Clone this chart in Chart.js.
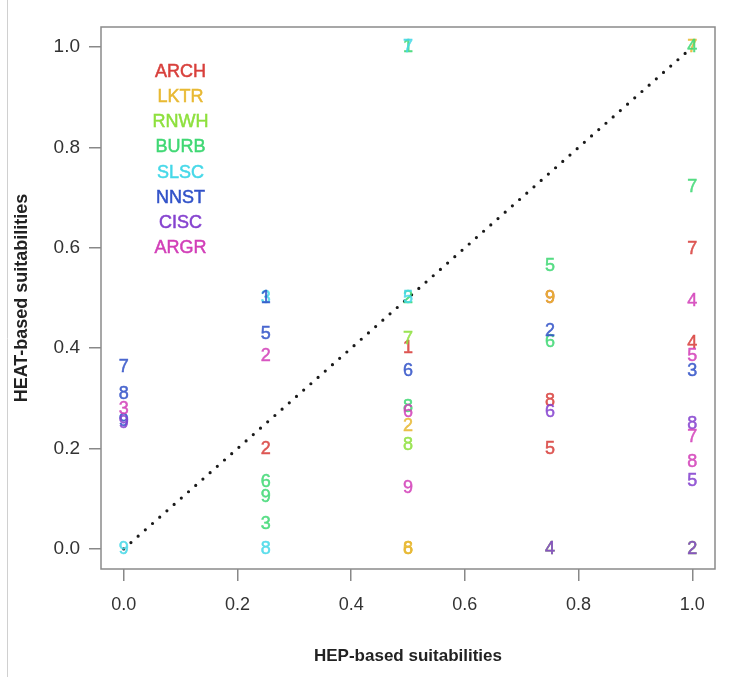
<!DOCTYPE html>
<html>
<head>
    <meta charset="UTF-8">
    <title>HEAT vs HEP suitabilities</title>
    <script src="https://cdn.jsdelivr.net/npm/chart.js"></script>
    <style>
        html, body {
            margin: 0;
            padding: 0;
            background: #ffffff;
        }
        #wrap {
            width: 746px;
            height: 677px;
            position: relative;
        }
    </style>
</head>
<body>
    <div id="wrap">
        <canvas id="graph" width="746" height="677"></canvas>
    </div>

    <script>
        // Series names (legend order)
        const seriesNames = ['ARCH', 'LKTR', 'RNWH', 'BURB', 'SLSC', 'NNST', 'CISC', 'ARGR'];
        const seriesColors = ['#d8403c', '#e8b934', '#8ee03e', '#40d874', '#45d8e8', '#3152c8', '#8542cf', '#d23fb8'];

        // Axis ticks
        const tickVals = [0, 0.2, 0.4, 0.6, 0.8, 1.0];

        // Data per series: HEP value, HEAT value, digit label
        const archHep  = [0.25, 0.5, 0.75, 0.75, 0.75, 1, 1];
        const archHeat = [0.20, 0.40, 0.295, 0.20, 0.50, 0.597, 0.41];
        const archId   = ['2', '1', '8', '5', '9', '7', '4'];

        const lktrHep  = [0.5, 0.5, 0.5, 0.75, 1];
        const lktrHeat = [0.245, 0, 0, 0.50, 1];
        const lktrId   = ['2', '8', '6', '9', '7'];

        const rnwhHep  = [0.5, 0.5, 0.75, 1];
        const rnwhHeat = [0.418, 0.207, 0, 0];
        const rnwhId   = ['7', '8', '4', '2'];

        const burbHep  = [0.25, 0.25, 0.25, 0.5, 0.5, 0.5, 0.75, 0.75, 1, 1];
        const burbHeat = [0.133, 0.103, 0.05, 1, 0.5, 0.283, 0.563, 0.412, 0.722, 1];
        const burbId   = ['6', '9', '3', '1', '2', '8', '5', '6', '7', '4'];

        const slscHep  = [0, 0.25, 0.25, 0.5, 0.5];
        const slscHeat = [0, 0.5, 0, 1, 0.5];
        const slscId   = ['9', '3', '8', '7', '5'];

        const nnstHep  = [0, 0, 0, 0.25, 0.25, 0.5, 0.75, 1];
        const nnstHeat = [0.362, 0.308, 0.255, 0.5, 0.428, 0.354, 0.434, 0.354];
        const nnstId   = ['7', '8', '9', '1', '5', '6', '2', '3'];

        const ciscHep  = [0, 0.75, 0.75, 1, 1, 1];
        const ciscHeat = [0.25, 0.272, 0, 0.249, 0.135, 0];
        const ciscId   = ['9', '6', '4', '8', '5', '2'];

        const argrHep  = [0, 0.25, 0.5, 0.5, 1, 1, 1, 1];
        const argrHeat = [0.279, 0.384, 0.273, 0.121, 0.494, 0.384, 0.223, 0.173];
        const argrId   = ['3', '2', '6', '9', '4', '5', '7', '8'];

        // 1:1 reference line
        const diagHep  = [0, 1];
        const diagHeat = [0, 1];

        const allHep  = [archHep, lktrHep, rnwhHep, burbHep, slscHep, nnstHep, ciscHep, argrHep];
        const allHeat = [archHeat, lktrHeat, rnwhHeat, burbHeat, slscHeat, nnstHeat, ciscHeat, argrHeat];
        const allId   = [archId, lktrId, rnwhId, burbId, slscId, nnstId, ciscId, argrId];

        function toPoints(xs, ys) {
            return xs.map((x, i) => ({x: x, y: ys[i]}));
        }

        const datasets = seriesNames.map((name, i) => ({
            label: name,
            data: toPoints(allHep[i], allHeat[i]),
            ids: allId[i],
            textColor: seriesColors[i],
            pointRadius: 0,
            pointHoverRadius: 0,
            showLine: false
        }));

        datasets.push({
            label: 'diag',
            type: 'line',
            data: toPoints(diagHep, diagHeat),
            borderColor: '#1a1a1a',
            borderWidth: 3.2,
            borderDash: [0, 9.6],
            borderCapStyle: 'round',
            pointRadius: 0,
            fill: false
        });

        // Frame, left page border, digit labels and legend text
        const plotDecor = {
            id: 'plotDecor',
            beforeDraw(chart) {
                const ctx = chart.ctx;
                ctx.save();
                ctx.strokeStyle = '#d0d0d0';
                ctx.lineWidth = 1;
                ctx.beginPath();
                ctx.moveTo(7.5, 0);
                ctx.lineTo(7.5, chart.height);
                ctx.stroke();
                ctx.restore();
            },
            afterDatasetsDraw(chart) {
                const ctx = chart.ctx;
                const a = chart.chartArea;
                ctx.save();
                ctx.strokeStyle = '#8a8a8a';
                ctx.lineWidth = 1.5;
                ctx.strokeRect(a.left, a.top, a.right - a.left, a.bottom - a.top);

                ctx.textAlign = 'center';
                ctx.textBaseline = 'middle';
                ctx.lineWidth = 0.5;
                ctx.globalAlpha = 0.85;
                ctx.font = '18px "Liberation Sans", Arial, sans-serif';
                chart.data.datasets.forEach((ds, i) => {
                    if (!ds.ids) return;
                    const meta = chart.getDatasetMeta(i);
                    ctx.fillStyle = ds.textColor;
                    ctx.strokeStyle = ds.textColor;
                    meta.data.forEach((pt, j) => {
                        ctx.fillText(ds.ids[j], pt.x, pt.y);
                        ctx.strokeText(ds.ids[j], pt.x, pt.y);
                    });
                });

                // legend as coloured names inside the plot
                ctx.globalAlpha = 1;
                ctx.font = '18px "Liberation Sans", Arial, sans-serif';
                const xs = chart.scales.x, ys = chart.scales.y;
                seriesNames.forEach((name, i) => {
                    const px = xs.getPixelForValue(0.1), py = ys.getPixelForValue(0.95 - 0.05 * i);
                    ctx.fillStyle = seriesColors[i];
                    ctx.strokeStyle = seriesColors[i];
                    ctx.fillText(name, px, py);
                    ctx.strokeText(name, px, py);
                });
                ctx.restore();
            }
        };

        const ctx = document.getElementById('graph').getContext('2d');
        const chart = new Chart(ctx, {
            type: 'scatter',
            data: { datasets: datasets },
            plugins: [plotDecor],
            options: {
                responsive: false,
                animation: false,
                events: [],
                layout: {
                    padding: { top: 27, right: 31, left: 0, bottom: 0 }
                },
                plugins: {
                    legend: { display: false },
                    tooltip: { enabled: false }
                },
                scales: {
                    x: {
                        type: 'linear',
                        min: -0.04,
                        max: 1.04,
                        afterBuildTicks: s => { s.ticks = tickVals.map(v => ({value: v})); },
                        afterFit: s => { s.height = 108; },
                        border: { display: false },
                        grid: {
                            drawOnChartArea: false,
                            drawTicks: true,
                            tickLength: 12,
                            color: '#888888',
                            lineWidth: 1.5
                        },
                        ticks: {
                            padding: 13,
                            color: '#333333',
                            font: { family: '"Liberation Sans", Arial', size: 18 },
                            callback: v => Number(v).toFixed(1)
                        },
                        title: {
                            display: true,
                            text: 'HEP-based suitabilities',
                            color: '#222222',
                            font: { family: '"Liberation Sans", Arial', size: 17, weight: 'bold' },
                            padding: { top: 0, bottom: 10 }
                        }
                    },
                    y: {
                        type: 'linear',
                        min: -0.04,
                        max: 1.04,
                        afterBuildTicks: s => { s.ticks = tickVals.map(v => ({value: v})); },
                        afterFit: s => { s.width = 101; },
                        border: { display: false },
                        grid: {
                            drawOnChartArea: false,
                            drawTicks: true,
                            tickLength: 12,
                            color: '#888888',
                            lineWidth: 1.5
                        },
                        ticks: {
                            padding: 9,
                            color: '#333333',
                            font: { family: '"Liberation Sans", Arial', size: 19 },
                            callback: v => Number(v).toFixed(1)
                        },
                        title: {
                            display: true,
                            text: 'HEAT-based suitabilities',
                            color: '#222222',
                            font: { family: '"Liberation Sans", Arial', size: 18, weight: 'bold' },
                            padding: { top: 11, bottom: 0 }
                        }
                    }
                }
            }
        });
    </script>
</body>
</html>
